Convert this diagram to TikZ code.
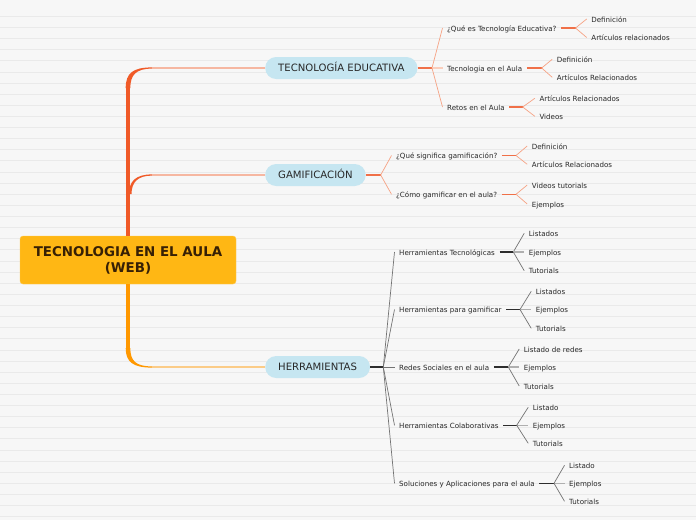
\documentclass[tikz,border=0pt]{standalone}
\usepackage{fontspec}
\setmainfont{DejaVu Sans}
\usetikzlibrary{calc}
\definecolor{paper}{RGB}{247,247,247}
\definecolor{paperline}{RGB}{234,234,234}
\definecolor{rootgold}{RGB}{255,183,20}
\definecolor{rootink}{RGB}{55,32,5}
\definecolor{trunkred}{RGB}{240,90,40}
\definecolor{trunkorange}{RGB}{255,152,0}
\definecolor{topicblue}{RGB}{198,230,241}
\definecolor{inkdark}{RGB}{40,40,40}
\definecolor{salmondark}{RGB}{240,112,72}
\definecolor{salmon}{RGB}{246,162,132}
\definecolor{salmonpale}{RGB}{250,206,188}
\definecolor{greydark}{RGB}{45,45,45}
\definecolor{greymid}{RGB}{115,115,115}
\definecolor{greypale}{RGB}{175,175,175}
\tikzset{
	rootbox/.style={fill=rootgold, draw=rootgold!75!white, rounded corners=3pt, minimum width=216pt, minimum height=48pt, align=center, text=rootink, font=\bfseries\fontsize{13.4}{16}\selectfont},
	topicbox/.style={fill=topicblue, rounded corners=11pt, minimum height=22pt, inner xsep=13pt, inner ysep=0pt, anchor=west, text=inkdark, text height=9pt, text depth=2pt, font=\fontsize{10.1}{12}\selectfont},
	itembox/.style={anchor=west, inner xsep=4.5pt, inner ysep=0pt, text=inkdark, text height=8pt, text depth=1.5pt, font=\fontsize{7.1}{8.5}\selectfont},
	warmstub/.style={draw=salmondark, line width=1.6pt},
	warmfan/.style={draw=salmon, line width=0.7pt},
	warmmid/.style={draw=salmonpale, line width=1.2pt},
	coolstub/.style={draw=greydark, line width=1.6pt},
	coolfan/.style={draw=greymid, line width=0.7pt},
	coolmid/.style={draw=greypale, line width=1.2pt}
}

\begin{document}
\begin{tikzpicture}[x=1pt,y=-1pt]
				\fill[paper] (0,0) rectangle (696,520);
				\useasboundingbox (0,0) rectangle (696,520);
				\foreach \k in {0,...,45}
					\draw[paperline, line width=0.8pt] (0,{16.3+11.12*\k}) -- (696,{16.3+11.12*\k});
				
				\node[rootbox] (root) at (128,260) {TECNOLOGIA EN EL AULA\\(WEB)};
				\node[topicbox] (tec) at (265,68) {TECNOLOGÍA EDUCATIVA};
				\node[topicbox] (gam) at (265,175) {GAMIFICACIÓN};
				\node[topicbox] (her) at (265,367) {HERRAMIENTAS};
				
				\coordinate (tecbend) at (128,88);
				\coordinate (teckink) at (152,68);
				\coordinate (gamkink) at (152,175);
				\coordinate (herbend) at (128,348);
				\coordinate (herkink) at (152,367);
				\draw[trunkred, line width=4.6pt] (root.north) -- (tecbend);
				\fill[trunkred] (125.7,88) .. controls (125.7,73) and (133,67.4) .. (152,67.4) -- (152,68.6) .. controls (136,68.6) and (130.3,75) .. (130.3,88) -- cycle;
				\fill[trunkred] (129,194) .. controls (129,181) and (136,174.4) .. (152,174.4) -- (152,175.6) .. controls (138,175.6) and (131.5,182) .. (131.5,194) -- cycle;
				\draw[salmon!75!paper, line width=1.1pt] (teckink) -- (tec.west);
				\draw[salmon!75!paper, line width=1.1pt] (gamkink) -- (gam.west);
				\draw[trunkorange, line width=4.6pt] (root.south) -- (herbend);
				\fill[trunkorange] (125.7,348) .. controls (125.7,362) and (133,367.6) .. (152,367.6) -- (152,366.4) .. controls (136,366.4) and (130.3,361) .. (130.3,348) -- cycle;
				\draw[trunkorange!45!paper, line width=1.1pt] (herkink) -- (her.west);
				
				\node[itembox] (tec1) at (442.5,28) {¿Qué es Tecnología Educativa?};
				\node[itembox] (tec2) at (442.5,68) {Tecnologia en el Aula};
				\node[itembox] (tec3) at (442.5,107) {Retos en el Aula};
				\coordinate (tecfork) at (432,68);
				\draw[warmstub] (tec.east) -- (tecfork);
				\draw[warmfan] (tecfork) -- (tec1.west);
				\draw[warmmid] (tecfork) -- (tec2.west);
				\draw[warmfan] (tecfork) -- (tec3.west);
				
				\node[itembox] (tec1a) at (586.7,19) {Definición};
				\node[itembox] (tec1b) at (586.7,37.5) {Artículos relacionados};
				\coordinate (tec1fork) at (575.5,28);
				\draw[warmstub] (tec1.east) -- (tec1fork);
				\draw[warmfan] (tec1fork) -- (tec1a.west);
				\draw[warmfan] (tec1fork) -- (tec1b.west);
				
				\node[itembox] (tec2a) at (552.2,59.3) {Definición};
				\node[itembox] (tec2b) at (552.2,77.3) {Artículos Relacionados};
				\coordinate (tec2fork) at (541.7,68);
				\draw[warmstub] (tec2.east) -- (tec2fork);
				\draw[warmfan] (tec2fork) -- (tec2a.west);
				\draw[warmfan] (tec2fork) -- (tec2b.west);
				
				\node[itembox] (tec3a) at (534.8,98.3) {Artículos Relacionados};
				\node[itembox] (tec3b) at (534.8,116.3) {Videos};
				\coordinate (tec3fork) at (522.7,107);
				\draw[warmstub] (tec3.east) -- (tec3fork);
				\draw[warmfan] (tec3fork) -- (tec3a.west);
				\draw[warmfan] (tec3fork) -- (tec3b.west);
				
				\node[itembox] (gam1) at (391.5,155.5) {¿Qué significa gamificación?};
				\node[itembox] (gam2) at (391.5,194.3) {¿Cómo gamificar en el aula?};
				\coordinate (gamfork) at (380.7,175);
				\draw[warmstub] (gam.east) -- (gamfork);
				\draw[warmfan] (gamfork) -- (gam1.west);
				\draw[warmfan] (gamfork) -- (gam2.west);
				
				\node[itembox] (gam1a) at (527.2,146) {Definición};
				\node[itembox] (gam1b) at (527.2,164.3) {Artículos Relacionados};
				\coordinate (gam1fork) at (516,155.5);
				\draw[warmstub] (gam1.east) -- (gam1fork);
				\draw[warmfan] (gam1fork) -- (gam1a.west);
				\draw[warmfan] (gam1fork) -- (gam1b.west);
				
				\node[itembox] (gam2a) at (527.2,185) {Videos tutorials};
				\node[itembox] (gam2b) at (527.2,204) {Ejemplos};
				\coordinate (gam2fork) at (516,194.3);
				\draw[warmstub] (gam2.east) -- (gam2fork);
				\draw[warmfan] (gam2fork) -- (gam2a.west);
				\draw[warmfan] (gam2fork) -- (gam2b.west);
				
				\node[itembox] (her1) at (394.5,252) {Herramientas Tecnológicas};
				\node[itembox] (her2) at (394.5,309.5) {Herramientas para gamificar};
				\node[itembox] (her3) at (394.5,367) {Redes Sociales en el aula};
				\node[itembox] (her4) at (394.5,425.3) {Herramientas Colaborativas};
				\node[itembox] (her5) at (394.5,483.3) {Soluciones y Aplicaciones para el aula};
				\coordinate (herfork) at (383.3,367);
				\draw[coolstub] (her.east) -- (herfork);
				\draw[coolfan] (herfork) -- (her1.west);
				\draw[coolfan] (herfork) -- (her2.west);
				\draw[coolfan] (herfork) -- (her3.west);
				\draw[coolfan] (herfork) -- (her4.west);
				\draw[coolfan] (herfork) -- (her5.west);
				
				\node[itembox] (her1a) at (524.2,233.3) {Listados};
				\node[itembox] (her1b) at (524.2,252) {Ejemplos};
				\node[itembox] (her1c) at (524.2,270.7) {Tutorials};
				\coordinate (her1fork) at (513.3,252);
				\draw[coolstub] (her1.east) -- (her1fork);
				\draw[coolfan] (her1fork) -- (her1a.west);
				\draw[coolmid] (her1fork) -- (her1b.west);
				\draw[coolfan] (her1fork) -- (her1c.west);
				
				\node[itembox] (her2a) at (531.2,291.3) {Listados};
				\node[itembox] (her2b) at (531.2,309.5) {Ejemplos};
				\node[itembox] (her2c) at (531.2,328.3) {Tutorials};
				\coordinate (her2fork) at (520,309.5);
				\draw[coolstub] (her2.east) -- (her2fork);
				\draw[coolfan] (her2fork) -- (her2a.west);
				\draw[coolmid] (her2fork) -- (her2b.west);
				\draw[coolfan] (her2fork) -- (her2c.west);
				
				\node[itembox] (her3a) at (519.2,349) {Listado de redes};
				\node[itembox] (her3b) at (519.2,367) {Ejemplos};
				\node[itembox] (her3c) at (519.2,386) {Tutorials};
				\coordinate (her3fork) at (508.3,367);
				\draw[coolstub] (her3.east) -- (her3fork);
				\draw[coolfan] (her3fork) -- (her3a.west);
				\draw[coolmid] (her3fork) -- (her3b.west);
				\draw[coolfan] (her3fork) -- (her3c.west);
				
				\node[itembox] (her4a) at (528.2,407.3) {Listado};
				\node[itembox] (her4b) at (528.2,425.3) {Ejemplos};
				\node[itembox] (her4c) at (528.2,443.3) {Tutorials};
				\coordinate (her4fork) at (516.7,425.3);
				\draw[coolstub] (her4.east) -- (her4fork);
				\draw[coolfan] (her4fork) -- (her4a.west);
				\draw[coolmid] (her4fork) -- (her4b.west);
				\draw[coolfan] (her4fork) -- (her4c.west);
				
				\node[itembox] (her5a) at (564.5,465.3) {Listado};
				\node[itembox] (her5b) at (564.5,483.3) {Ejemplos};
				\node[itembox] (her5c) at (564.5,501.3) {Tutorials};
				\coordinate (her5fork) at (554,483.3);
				\draw[coolstub] (her5.east) -- (her5fork);
				\draw[coolfan] (her5fork) -- (her5a.west);
				\draw[coolmid] (her5fork) -- (her5b.west);
				\draw[coolfan] (her5fork) -- (her5c.west);
			\end{tikzpicture}
\end{document}
